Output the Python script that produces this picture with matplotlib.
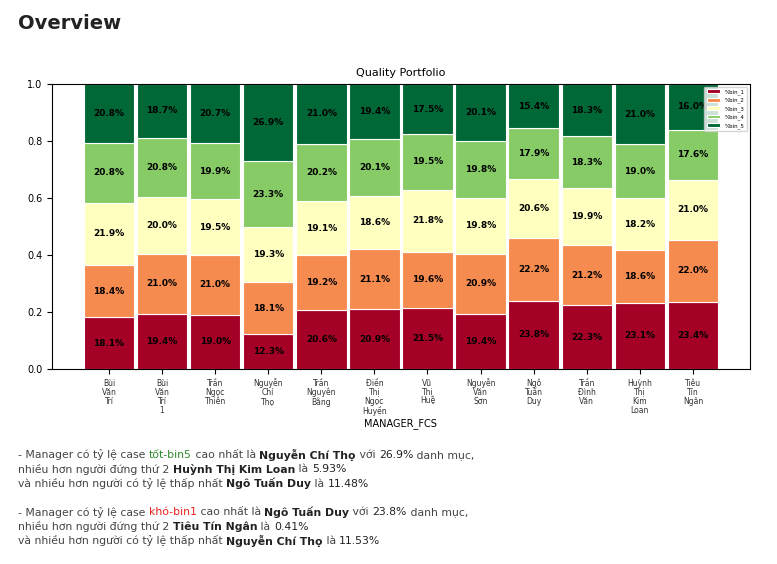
import matplotlib.pyplot as plt
import numpy as np

managers = ["Bùi\nVăn\nTrí", "Bùi\nVăn\nTrí\n1", "Trần\nNgọc\nThiên", "Nguyễn\nChí\nThọ",
            "Trần\nNguyên\nBằng", "Điền\nThị\nNgọc\nHuyền", "Vũ\nThị\nHuệ", "Nguyễn\nVăn\nSơn",
            "Ngô\nTuấn\nDuy", "Trần\nĐình\nVăn", "Huỳnh\nThị\nKim\nLoan", "Tiêu\nTín\nNgân"]
bin_1 = [18.1, 19.4, 19.0, 12.3, 20.6, 20.9, 21.5, 19.4, 23.8, 22.3, 23.1, 23.4]
bin_2 = [18.4, 21.0, 21.0, 18.1, 19.2, 21.1, 19.6, 20.9, 22.2, 21.2, 18.6, 22.0]
bin_3 = [21.9, 20.0, 19.5, 19.3, 19.1, 18.6, 21.8, 19.8, 20.6, 19.9, 18.2, 21.0]
bin_4 = [20.8, 20.8, 19.9, 23.3, 20.2, 20.1, 19.5, 19.8, 17.9, 18.3, 19.0, 17.6]
bin_5 = [20.8, 18.7, 20.7, 26.9, 21.0, 19.4, 17.5, 20.1, 15.4, 18.3, 21.0, 16.0]
bins = [bin_1, bin_2, bin_3, bin_4, bin_5]
labels = ["%bin_1", "%bin_2", "%bin_3", "%bin_4", "%bin_5"]
colors = ["#a50026", "#f68b50", "#ffffc0", "#86cb66", "#006837"]

fig = plt.figure(figsize=(7.77, 5.64), dpi=100)
fig.text(0.023, 0.975, "Overview", fontsize=14, fontweight="bold", va="top", color="#222222")
ax = fig.add_axes([0.067, 0.346, 0.898, 0.505])

x = np.arange(len(managers))
bottom = np.zeros(len(managers))
for vals, lab, col in zip(bins, labels, colors):
    v = np.array(vals) / 100
    ax.bar(x, v, bottom=bottom, width=0.95, color=col, edgecolor="white", linewidth=0.8, label=lab)
    for xi, b, h, s in zip(x, bottom, v, vals):
        ax.text(xi, b + h / 2, f"{s:.1f}%", ha="center", va="center", fontsize=6.5, fontweight="bold")
    bottom += v

ax.set_ylim(0, 1.0)
ax.set_xticks(x)
ax.set_xticklabels(managers, fontsize=5.5, color="#333333", linespacing=1.0)
ax.tick_params(axis="y", labelsize=7)
ax.set_title("Quality Portfolio", fontsize=8)
ax.set_xlabel("MANAGER_FCS", fontsize=7, labelpad=2)
ax.legend(loc="upper right", fontsize=4, handlelength=2.5, framealpha=0.8)

# commentary text below the chart
lines = [
    [("- Manager có tỷ lệ case ", "#444444", "normal"), ("tốt-bin5", "#2e8b2e", "normal"),
     (" cao nhất là ", "#444444", "normal"), ("Nguyễn Chí Thọ", "#222222", "bold"),
     (" với ", "#444444", "normal"), ("26.9%", "#222222", "normal"), (" danh mục,", "#444444", "normal")],
    [("nhiều hơn người đứng thứ 2 ", "#444444", "normal"), ("Huỳnh Thị Kim Loan", "#222222", "bold"),
     (" là ", "#444444", "normal"), ("5.93%", "#222222", "normal")],
    [("và nhiều hơn người có tỷ lệ thấp nhất ", "#444444", "normal"), ("Ngô Tuấn Duy", "#222222", "bold"),
     (" là ", "#444444", "normal"), ("11.48%", "#222222", "normal")],
    None,
    [("- Manager có tỷ lệ case ", "#444444", "normal"), ("khó-bin1", "#e8201c", "normal"),
     (" cao nhất là ", "#444444", "normal"), ("Ngô Tuấn Duy", "#222222", "bold"),
     (" với ", "#444444", "normal"), ("23.8%", "#222222", "normal"), (" danh mục,", "#444444", "normal")],
    [("nhiều hơn người đứng thứ 2 ", "#444444", "normal"), ("Tiêu Tín Ngân", "#222222", "bold"),
     (" là ", "#444444", "normal"), ("0.41%", "#222222", "normal")],
    [("và nhiều hơn người có tỷ lệ thấp nhất ", "#444444", "normal"), ("Nguyễn Chí Thọ", "#222222", "bold"),
     (" là ", "#444444", "normal"), ("11.53%", "#222222", "normal")],
]
renderer = fig.canvas.get_renderer()
y = 1 - 455 / 564
for line in lines:
    if line is not None:
        xpos = 18 / 777
        for s, c, w in line:
            t = fig.text(xpos, y, s, fontsize=7.8, color=c, fontweight=w, va="center")
            bb = t.get_window_extent(renderer)
            xpos += bb.width / fig.bbox.width
    y -= 14.3 / 564

fig.savefig("out.png", dpi=100)
